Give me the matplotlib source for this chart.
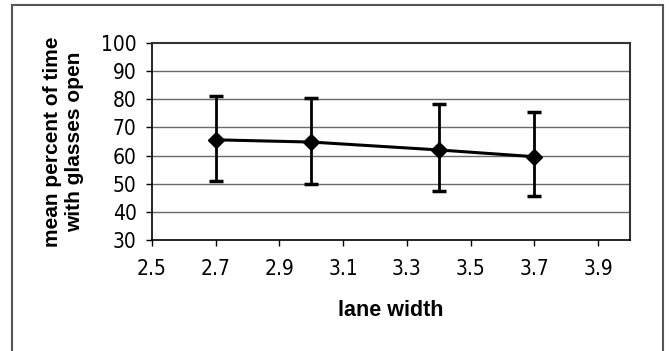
import matplotlib
matplotlib.use("Agg")
import matplotlib.pyplot as plt
from matplotlib import font_manager
from matplotlib.patches import Rectangle

lane_width = [2.7, 3.0, 3.4, 3.7]
mean_open = [65.6, 64.8, 62.0, 59.6]
err_low = [14.6, 14.9, 14.7, 14.0]
err_high = [15.4, 15.5, 16.2, 15.9]
xticks = [2.5, 2.7, 2.9, 3.1, 3.3, 3.5, 3.7, 3.9]
yticks = [30, 40, 50, 60, 70, 80, 90, 100]

label_font = "Liberation Sans"

fig = plt.figure(figsize=(6.69, 3.51), dpi=100)
W, H = 669, 351
ax = fig.add_axes([152 / W, 1 - 240 / H, (630 - 152) / W, (240 - 43) / H])

for y in yticks[1:-1]:
    ax.axhline(y, color="#6a6a6a", lw=1.0, zorder=1)

ax.errorbar(lane_width, mean_open, yerr=[err_low, err_high], fmt="-D", color="black",
            lw=2.2, ms=8, elinewidth=2.0, capsize=5, capthick=2.5, zorder=3)

ax.set_xlim(2.5, 4.0)
ax.set_ylim(30, 100)
ax.set_xticks(xticks)
ax.set_yticks(yticks)
tick_kw = dict(fontfamily="DejaVu Sans", fontstretch="condensed", fontsize=15)
ax.set_xticklabels([f"{v:.1f}" for v in xticks], **tick_kw)
ax.set_yticklabels([str(v) for v in yticks], **tick_kw)
ax.tick_params(axis="x", direction="out", length=4, width=1, pad=10)
ax.tick_params(axis="y", direction="out", length=4, width=1, pad=7)

for s in ["top", "right"]:
    ax.spines[s].set_linestyle((0, (1, 1)))
    ax.spines[s].set_color("#333333")
    ax.spines[s].set_linewidth(1.5)
for s in ["left", "bottom"]:
    ax.spines[s].set_color("black")
    ax.spines[s].set_linewidth(1.2)

ax.set_xlabel("lane width", fontfamily=label_font, fontweight="bold", fontsize=15.5, labelpad=15)
ax.set_ylabel("mean percent of time\nwith glasses open", fontfamily=label_font,
              fontweight="bold", fontsize=15, labelpad=12, linespacing=1.25)

fig.add_artist(Rectangle((12 / W, -0.1), (663 - 12) / W, 1.1 - 5 / H,
                         transform=fig.transFigure, fill=False, edgecolor="#555555", lw=1.5))

fig.savefig("out.png", dpi=100)
